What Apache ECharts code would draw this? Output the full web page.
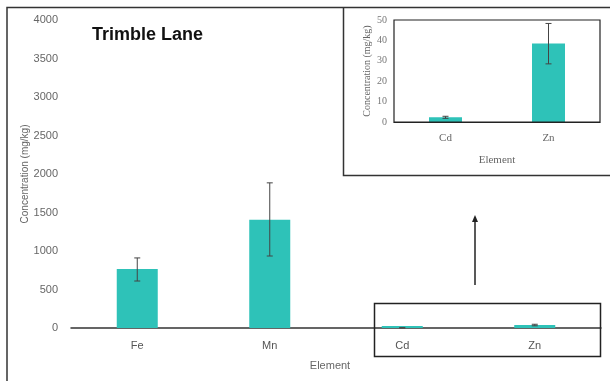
<!DOCTYPE html>
<html>
<head>
<meta charset="utf-8">
<script src="https://cdn.jsdelivr.net/npm/echarts@6/dist/echarts.min.js"></script>
<style>
html,body{margin:0;padding:0;background:#fff;}
#c{width:610px;height:381px;}
</style>
</head>
<body>
<div id="c"></div>
<script>
// Main chart data
const mainCategories = ['Fe', 'Mn', 'Cd', 'Zn'];
const mainValues = [766, 1405, 2.5, 38.5];
const mainErrLow = [610, 935, 2.0, 28.5];
const mainErrHigh = [910, 1885, 3.0, 48.5];
const mainTicks = [0, 500, 1000, 1500, 2000, 2500, 3000, 3500, 4000];

// Inset data
const insetCategories = ['Cd', 'Zn'];
const insetValues = [2.3, 38.5];
const insetErrLow = [1.8, 28.5];
const insetErrHigh = [2.8, 48.3];
const insetTicks = [0, 10, 20, 30, 40, 50];

const teal = '#2ec2b8';
const chart = echarts.init(document.getElementById('c'), null, {renderer: 'canvas'});

function errRender(low, high, cap) {
  return function (params, api) {
    const i = api.value(0);
    const top = api.coord([i, high[i]]);
    const bot = api.coord([i, low[i]]);
    const x = top[0];
    const st = {stroke: '#444', lineWidth: 1};
    return {
      type: 'group',
      children: [
        {type: 'line', shape: {x1: x, y1: top[1], x2: x, y2: bot[1]}, style: st},
        {type: 'line', shape: {x1: x - cap, y1: top[1], x2: x + cap, y2: top[1]}, style: st},
        {type: 'line', shape: {x1: x - cap, y1: bot[1], x2: x + cap, y2: bot[1]}, style: st}
      ]
    };
  };
}

const option = {
  animation: false,
  backgroundColor: '#fff',
  grid: [
    {left: 71, right: 9, top: 20, bottom: 53},
    {left: 394, right: 10, top: 20, bottom: 259, show: true, borderColor: '#222', borderWidth: 1.2, backgroundColor: 'transparent', z: 5}
  ],
  xAxis: [
    {
      gridIndex: 0, type: 'category', data: mainCategories,
      name: 'Element', nameLocation: 'middle', nameGap: 32,
      nameTextStyle: {color: '#666', fontSize: 11, fontFamily: 'Liberation Sans', padding: [0, 12, 0, 0]},
      axisLine: {lineStyle: {color: '#333', width: 1.5}},
      axisTick: {show: false},
      axisLabel: {color: '#555', fontSize: 11, fontFamily: 'Liberation Sans', margin: 12}
    },
    {
      gridIndex: 1, type: 'category', data: insetCategories,
      name: 'Element', nameLocation: 'middle', nameGap: 33,
      nameTextStyle: {color: '#666', fontSize: 11, fontFamily: 'Liberation Serif'},
      axisLine: {lineStyle: {color: '#222', width: 1.2}},
      axisTick: {show: false},
      axisLabel: {color: '#666', fontSize: 11, fontFamily: 'Liberation Serif', margin: 11}
    }
  ],
  yAxis: [
    {
      gridIndex: 0, type: 'value', min: mainTicks[0], max: mainTicks[mainTicks.length - 1], interval: mainTicks[1] - mainTicks[0],
      name: 'Concentration (mg/kg)', nameLocation: 'middle', nameGap: 41, nameMoveOverlap: false,
      nameTextStyle: {color: '#666', fontSize: 10, fontFamily: 'Liberation Sans'},
      axisLine: {show: false}, axisTick: {show: false}, splitLine: {show: false},
      axisLabel: {color: '#666', fontSize: 11, fontFamily: 'Liberation Sans', margin: 13, formatter: v => String(v)}
    },
    {
      gridIndex: 1, type: 'value', min: insetTicks[0], max: insetTicks[insetTicks.length - 1], interval: insetTicks[1] - insetTicks[0],
      name: 'Concentration (mg/kg)', nameLocation: 'middle', nameGap: 22, nameMoveOverlap: false,
      nameTextStyle: {color: '#666', fontSize: 10, fontFamily: 'Liberation Serif'},
      axisLine: {show: false}, axisTick: {show: false}, splitLine: {show: false},
      axisLabel: {color: '#777', fontSize: 10, fontFamily: 'Liberation Serif', margin: 7, formatter: v => String(v)}
    }
  ],
  series: [
    {
      type: 'bar', xAxisIndex: 0, yAxisIndex: 0, data: mainValues,
      barWidth: 41, barMinHeight: 2, itemStyle: {color: teal}
    },
    {
      type: 'custom', xAxisIndex: 0, yAxisIndex: 0,
      data: mainCategories.map((c, i) => [i, mainValues[i]]),
      renderItem: errRender(mainErrLow, mainErrHigh, 3), z: 10
    },
    {
      type: 'bar', xAxisIndex: 1, yAxisIndex: 1, data: insetValues,
      barWidth: 33, itemStyle: {color: teal}
    },
    {
      type: 'custom', xAxisIndex: 1, yAxisIndex: 1,
      data: insetCategories.map((c, i) => [i, insetValues[i]]),
      renderItem: errRender(insetErrLow, insetErrHigh, 3), z: 10
    }
  ],
  graphic: [
    {type: 'text', left: 92, top: 26, style: {text: 'Trimble Lane', fontSize: 18, fontWeight: 'bold', fontFamily: 'Liberation Sans', fill: '#111'}},
    // outer frame (top and left)
    {type: 'polyline', shape: {points: [[7, 381], [7, 7.5], [610, 7.5]]}, style: {stroke: '#333', lineWidth: 1.5, fill: null}},
    // inset frame
    {type: 'polyline', shape: {points: [[343.5, 7.5], [343.5, 175.5], [610, 175.5]]}, style: {stroke: '#333', lineWidth: 1.5, fill: null}},
    // highlight box around Cd/Zn
    {type: 'rect', shape: {x: 374.5, y: 303.5, width: 226, height: 53}, style: {stroke: '#222', lineWidth: 1.5, fill: null}, z: 20},
    // arrow
    {type: 'line', shape: {x1: 475, y1: 285, x2: 475, y2: 220}, style: {stroke: '#222', lineWidth: 1.5}},
    {type: 'polygon', shape: {points: [[472, 222], [478, 222], [475, 215]]}, style: {fill: '#222'}}
  ]
};
chart.setOption(option);
</script>
</body>
</html>
